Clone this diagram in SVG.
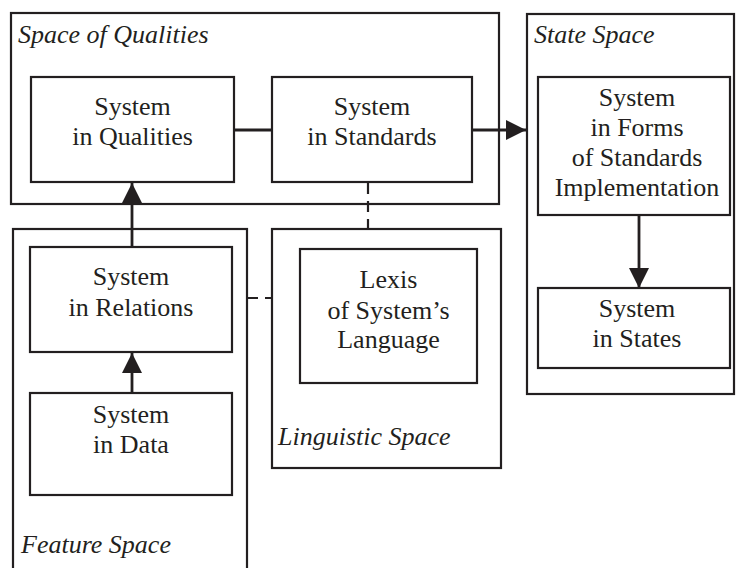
<svg xmlns="http://www.w3.org/2000/svg" width="736" height="568" viewBox="0 0 736 568">
<defs>
<style>
.frame{fill:none;stroke:#231f20;stroke-width:2.2}
.box{fill:#fff;stroke:#231f20;stroke-width:2.2}
.t{font-family:"Liberation Serif","Times New Roman",serif;font-size:26px;fill:#231f20;text-anchor:middle}
.lbl{font-family:"Liberation Serif","Times New Roman",serif;font-size:26px;font-style:italic;fill:#231f20}
.c{fill:none;stroke:#231f20;stroke-width:2.8}
.d{fill:none;stroke:#231f20;stroke-width:2.2;stroke-dasharray:11 7}
</style>
<marker id="ah" viewBox="0 0 10 10" refX="10" refY="5" markerWidth="20" markerHeight="22" markerUnits="userSpaceOnUse" orient="auto">
<path d="M0,0 L10,5 L0,10 z" fill="#231f20"/>
</marker>
</defs>
<rect width="736" height="568" fill="#fff"/>

<g id="space-of-qualities">
<rect class="frame" x="11" y="13" width="488" height="191"/>
<text class="lbl" x="18" y="43">Space of Qualities</text>
</g>
<g id="state-space">
<rect class="frame" x="527" y="14" width="207" height="380"/>
<text class="lbl" x="534" y="43">State Space</text>
</g>
<g id="feature-space">
<rect class="frame" x="13" y="229" width="234" height="350"/>
<text class="lbl" x="21" y="553">Feature Space</text>
</g>
<g id="linguistic-space">
<rect class="frame" x="272" y="229" width="229" height="239"/>
<text class="lbl" x="278" y="445">Linguistic Space</text>
</g>

<g id="connectors">
<line class="c" x1="234" y1="130" x2="272" y2="130"/>
<line class="c" x1="472" y1="130" x2="526" y2="130" marker-end="url(#ah)"/>
<line class="c" x1="639" y1="215" x2="639" y2="288" marker-end="url(#ah)"/>
<line class="c" x1="132" y1="247" x2="132" y2="183" marker-end="url(#ah)"/>
<line class="c" x1="132" y1="393" x2="132" y2="353" marker-end="url(#ah)"/>
<line class="d" x1="368" y1="183" x2="368" y2="229"/>
<line class="d" x1="247" y1="298" x2="272" y2="298"/>
</g>

<g id="system-in-qualities">
<rect class="box" x="31" y="77" width="203" height="105"/>
<text class="t" x="132.5" y="115">System</text>
<text class="t" x="132.5" y="145">in Qualities</text>
</g>
<g id="system-in-standards">
<rect class="box" x="272" y="77" width="200" height="105"/>
<text class="t" x="372" y="115">System</text>
<text class="t" x="372" y="145">in Standards</text>
</g>
<g id="system-in-forms">
<rect class="box" x="538" y="77" width="192" height="138"/>
<text class="t" x="637" y="106">System</text>
<text class="t" x="637" y="136">in Forms</text>
<text class="t" x="637" y="166">of Standards</text>
<text class="t" x="637" y="196">Implementation</text>
</g>
<g id="system-in-states">
<rect class="box" x="538" y="288" width="192" height="80"/>
<text class="t" x="637" y="317">System</text>
<text class="t" x="637" y="347">in States</text>
</g>
<g id="system-in-relations">
<rect class="box" x="30" y="247" width="202" height="105"/>
<text class="t" x="131" y="285">System</text>
<text class="t" x="131" y="316">in Relations</text>
</g>
<g id="system-in-data">
<rect class="box" x="30" y="393" width="202" height="102"/>
<text class="t" x="131" y="423">System</text>
<text class="t" x="131" y="453">in Data</text>
</g>
<g id="lexis">
<rect class="box" x="300" y="249" width="177" height="134"/>
<text class="t" x="388.5" y="288">Lexis</text>
<text class="t" x="388.5" y="319">of System’s</text>
<text class="t" x="388.5" y="348">Language</text>
</g>
</svg>
